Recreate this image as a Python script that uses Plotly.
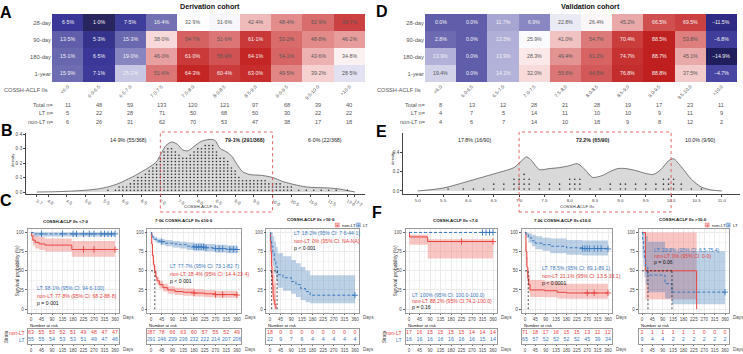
import plotly.graph_objects as go

# ======================= DATA =======================
rows = ["28-day", "90-day", "180-day", "1-year"]
cols_A = ["<6·0", "6·0-6·5", "6·5-7·0", "7·0-7·5", "7·5-8·0", "8·0-8·5",
          "8·5-9·0", "9·0-9·5", "9·5-10·0", ">10·0"]
cols_D = ["<6.0", "6.0-6.5", "6.5-7.0", "7.0-7.5", "7.5-8.0", "8.0-8.5",
          "8.5-9.0", "9.0-9.5", "9.5-10.0", ">10.0"]
A_vals = [
    [6.5, 1.0, 7.5, 16.4, 32.9, 31.6, 42.4, 48.4, 52.9, 59.7],
    [13.5, 5.3, 15.3, 38.0, 54.7, 51.6, 61.1, 53.2, 48.8, 46.2],
    [15.1, 6.5, 19.0, 46.0, 61.0, 56.9, 64.1, 54.1, 43.6, 34.8],
    [15.9, 7.1, 25.2, 51.6, 64.3, 60.4, 63.0, 49.5, 39.2, 28.5],
]
D_vals = [
    [0.0, 0.0, 11.7, 6.9, 22.8, 26.4, 45.2, 66.5, 69.5, -11.5],
    [2.8, 0.0, 13.5, 25.9, 41.0, 54.7, 70.4, 88.5, 53.8, -6.8],
    [13.9, 0.0, 13.9, 28.3, 49.4, 61.2, 74.7, 88.7, 45.1, -14.9],
    [19.4, 0.0, 14.1, 32.0, 55.6, 64.5, 76.8, 88.8, 37.5, -4.7],
]
A_total = [11, 48, 59, 133, 120, 121, 97, 68, 39, 40]
A_LT = [5, 22, 28, 71, 50, 68, 50, 30, 22, 22]
A_nonLT = [6, 26, 31, 62, 70, 53, 47, 38, 17, 18]
D_total = [8, 13, 12, 28, 21, 28, 19, 17, 23, 11]
D_LT = [4, 7, 5, 14, 11, 10, 10, 9, 11, 9]
D_nonLT = [4, 6, 7, 14, 10, 18, 9, 8, 12, 2]

# density curves
B_curve_x = [3.7, 4.2, 4.6, 5.0, 5.3, 5.6, 5.9, 6.1, 6.3, 6.5, 6.7, 6.9, 7.05, 7.15, 7.3,
             7.45, 7.6, 7.75, 7.9, 8.1, 8.3, 8.45, 8.6, 8.75, 8.9, 9.05, 9.2, 9.4, 9.7,
             10.0, 10.3, 10.6, 10.9, 11.2, 11.5, 11.8, 12.0, 12.2]
B_curve_y = [0.0, 0.002, 0.006, 0.012, 0.02, 0.035, 0.06, 0.085, 0.11, 0.14, 0.17, 0.21,
             0.28, 0.32, 0.345, 0.33, 0.29, 0.285, 0.315, 0.35, 0.362, 0.358, 0.30, 0.28,
             0.25, 0.19, 0.14, 0.12, 0.115, 0.10, 0.07, 0.05, 0.035, 0.03, 0.028, 0.02,
             0.01, 0.0]
B_dot_bins = [5.6, 5.8, 5.9, 6.0, 6.1, 6.2, 6.3, 6.4, 6.5, 6.6, 6.7, 6.8, 6.9, 7.0, 7.1,
              7.2, 7.3, 7.4, 7.5, 7.6, 7.7, 7.8, 7.9, 8.0, 8.1, 8.2, 8.3, 8.4, 8.5, 8.6,
              8.7, 8.8, 8.9, 9.0, 9.1, 9.2, 9.3, 9.4, 9.5, 9.6, 9.7, 9.8, 9.9, 10.0,
              10.1, 10.2, 10.3, 10.4, 10.5, 10.7, 10.9, 11.1, 11.3, 11.5, 11.7, 12.0]
B_dot_counts = [1, 1, 2, 2, 2, 3, 4, 5, 5, 6, 7, 8, 9, 11, 13, 14, 14, 13, 12, 11, 11, 12,
                13, 14, 14, 15, 15, 15, 13, 11, 11, 10, 8, 7, 5, 4, 4, 4, 4, 4, 4, 4, 3,
                3, 3, 3, 2, 2, 2, 1, 1, 1, 1, 1, 1, 1]
E_curve_x = [5.0, 5.2, 5.5, 5.8, 6.0, 6.2, 6.4, 6.6, 6.9, 7.05, 7.15, 7.25, 7.4, 7.6, 7.8,
             8.0, 8.15, 8.3, 8.45, 8.65, 8.8, 8.95, 9.1, 9.3, 9.5, 9.65, 9.8, 9.95, 10.05,
             10.2, 10.4, 10.6, 10.8, 11.0]
E_curve_y = [0.0, 0.01, 0.03, 0.07, 0.10, 0.13, 0.16, 0.19, 0.24, 0.31, 0.35, 0.31, 0.22,
             0.23, 0.24, 0.26, 0.28, 0.22, 0.14, 0.16, 0.20, 0.23, 0.23, 0.21, 0.18, 0.17,
             0.22, 0.31, 0.33, 0.25, 0.12, 0.04, 0.01, 0.0]
E_dot_bins = [5.6, 5.9, 6.1, 6.3, 6.5, 6.7, 6.9, 7.0, 7.1, 7.2, 7.4, 7.6, 7.8, 8.0, 8.1,
              8.2, 8.4, 8.6, 8.8, 9.0, 9.1, 9.3, 9.5, 9.7, 9.85, 9.95, 10.05, 10.2, 10.4,
              10.6]
E_dot_counts = [1, 1, 1, 1, 2, 2, 3, 3, 4, 3, 2, 2, 2, 3, 3, 3, 1, 1, 2, 2, 2, 2, 2, 2, 3,
                3, 3, 2, 1, 1]
B_ticks = [3.7, 4.0, 4.5, 5.0, 5.5, 6.0, 6.5, 7.0, 7.5, 8.0, 8.5, 9.0, 9.5, 10.0, 10.5,
           11.0, 11.5, 12.0, 12.2]
E_ticks = [5.0, 5.5, 6.0, 6.5, 7.0, 7.5, 8.0, 8.5, 9.0, 9.5, 10.0, 10.5, 11.0]
B_labels = ["14·9% (55/368)", "79·1% (291/368)", "6·0% (22/368)"]
E_labels = ["17.8% (16/90)", "72.2% (65/90)", "10.0% (9/90)"]

# Kaplan-Meier curves
KM_TIMES = [0, 45, 90, 135, 180, 225, 270, 315, 360]

C1_LT_t = [0, 10, 360]
C1_LT_s = [100, 98.1, 98.1]
C1_LT_lo = [100, 94.6, 94.6]
C1_LT_hi = [100, 100, 100]
C1_LT_cens = [45, 135, 180, 195, 225, 250, 270, 300, 315, 330, 345, 360]
C1_NL_t = [0, 3, 8, 18, 35, 60, 175, 360]
C1_NL_s = [100, 95, 90, 87, 85, 83.5, 77.8, 77.8]
C1_NL_lo = [100, 89, 83, 79, 77, 75, 68.2, 68.2]
C1_NL_hi = [100, 100, 97, 95, 94, 92, 88.8, 88.8]
C1_NL_cens = [225, 270, 360]
C1_med = []

C2_LT_t = [0, 3, 8, 15, 25, 40, 60, 90, 120, 150, 180, 225, 270, 315, 360]
C2_LT_s = [100, 96, 93, 91, 89, 88, 86, 85, 84, 82, 81, 80, 79, 78, 77.7]
C2_LT_lo = [100, 94, 90, 88, 86, 84, 82, 80.5, 79, 77, 76, 75, 74, 73, 73.1]
C2_LT_hi = [100, 98, 96, 94, 92, 91, 90, 89, 88, 87, 86, 85, 84, 83, 82.7]
C2_LT_cens = [45, 180, 190, 200, 210, 220, 230, 270, 285, 300, 330, 345, 360]
C2_NL_t = [0, 3, 6, 10, 15, 20, 25, 35, 50, 70, 100, 135, 180, 225, 270, 360]
C2_NL_s = [100, 85, 70, 58, 50, 42, 37, 32, 28, 25, 23, 22, 21, 20, 19, 18.4]
C2_NL_lo = [100, 81, 65, 53, 44, 37, 32, 27, 23, 20, 18.5, 17.5, 16.5, 15.5, 15, 14.4]
C2_NL_hi = [100, 89, 75, 64, 56, 48, 42, 37, 33, 30, 28, 27, 26, 25, 24, 23.4]
C2_NL_cens = [180, 270, 300, 360]
C2_med = [16]

C3_LT_t = [0, 3, 7, 12, 18, 25, 32, 55, 90, 110, 130, 150, 170, 360]
C3_LT_s = [100, 91, 82, 73, 64, 55, 45, 41, 36, 32, 27, 23, 18.2, 18.2]
C3_LT_lo = [100, 79, 67, 56, 46, 37, 28, 24, 20, 16, 12, 9, 7.6, 7.6]
C3_LT_hi = [100, 100, 100, 95, 88, 81, 73, 69, 64, 60, 55, 50, 44.1, 44.1]
C3_LT_cens = [360]
C3_NL_t = [0, 2, 4, 6, 8, 10, 13, 16, 20, 25]
C3_NL_s = [100, 88, 75, 56, 44, 31, 19, 12, 6, 0]
C3_NL_lo = [100, 72, 56, 36, 25, 14, 6, 2, 0.5, 0]
C3_NL_hi = [100, 100, 99, 86, 76, 66, 55, 45, 35, 0]
C3_NL_cens = []
C3_med = [7, 30]

F1_LT_t = [0, 360]
F1_LT_s = [100, 100]
F1_LT_lo = [100, 100]
F1_LT_hi = [100, 100]
F1_LT_cens = [315, 330, 345, 360]
F1_NL_t = [0, 2, 80, 360]
F1_NL_s = [100, 94.1, 88.2, 88.2]
F1_NL_lo = [100, 84, 66, 66]
F1_NL_hi = [100, 97, 91, 91]
F1_NL_cens = [225, 360]
F1_med = []

F2_LT_t = [0, 5, 15, 30, 45, 75, 110, 180, 250, 360]
F2_LT_s = [100, 97, 93, 89, 86, 84, 82, 80, 79, 78.5]
F2_LT_lo = [100, 93, 87, 82, 78, 76, 73, 71, 70, 69.1]
F2_LT_hi = [100, 100, 99, 97, 95, 93, 92, 90, 89.5, 89.1]
F2_LT_cens = [250, 260, 270, 280, 300, 315, 330, 360]
F2_NL_t = [0, 4, 8, 12, 16, 22, 85, 140, 180, 360]
F2_NL_s = [100, 75, 55, 40, 32, 25, 24, 22, 21.1, 21.1]
F2_NL_lo = [100, 65, 44, 30, 22, 16, 15.5, 14, 13.5, 13.5]
F2_NL_hi = [100, 86, 68, 53, 45, 38, 36.5, 34, 33.1, 33.1]
F2_NL_cens = [270, 300, 360]
F2_med = [14]

F3_LT_t = [0, 3, 6, 10, 16, 25, 100, 130, 360]
F3_LT_s = [100, 88.9, 77.8, 66.7, 55.6, 44.4, 33.3, 22.2, 22.2]
F3_LT_lo = [100, 70, 55, 42, 32, 22, 14, 6.5, 6.5]
F3_LT_hi = [100, 100, 100, 100, 95, 88, 79, 75.4, 75.4]
F3_LT_cens = [360]
F3_NL_t = [0, 15, 237, 237]
F3_NL_s = [100, 50, 50, 0]
F3_NL_lo = [100, 13, 13, 13]
F3_NL_hi = [100, 100, 100, 100]
F3_NL_cens = []
F3_med = [26, 130]

C1_risk_nl = [63, 55, 53, 52, 51, 49, 48, 47, 47]
C1_risk_lt = [55, 55, 54, 53, 53, 51, 49, 47, 46]
C2_risk_nl = [287, 78, 66, 63, 60, 57, 55, 52, 49]
C2_risk_lt = [291, 246, 239, 236, 232, 222, 214, 207, 206]
C3_risk_nl = [18, 0, 0, 0, 0, 0, 0, 0, 0]
C3_risk_lt = [22, 9, 7, 6, 4, 4, 4, 4, 4]
F1_risk_nl = [17, 16, 15, 15, 15, 15, 14, 14, 14]
F1_risk_lt = [16, 16, 16, 16, 16, 16, 16, 15, 14]
F2_risk_nl = [71, 18, 17, 16, 15, 15, 13, 12, 12]
F2_risk_lt = [65, 57, 52, 52, 52, 52, 45, 39, 34]
F3_risk_nl = [2, 1, 1, 1, 1, 1, 0, 0, 0]
F3_risk_lt = [9, 4, 4, 2, 2, 2, 2, 2, 2]

C_titles = ["COSSH-ACLF IIs <7·0", "7·0≤ COSSH-ACLF IIs ≤10·0", "COSSH-ACLF IIs >10·0"]
F_titles = ["COSSH-ACLF IIs <7.0", "7.0≤ COSSH-ACLF IIs ≤10.0", "COSSH-ACLF IIs >10.0"]
C_texts = [["LT: 98·1% (95% CI: 94·6-100)", "non-LT: 77·8% (95% CI: 68·2-88·8)", "p = 0·001"],
           ["LT: 77·7% (95% CI: 73·1-82·7)", "non-LT: 18·4% (95% CI: 14·4-23·4)", "p < 0·001"],
           ["LT: 18·2% (95% CI: 7·6-44·1)", "non-LT: 0% (95% CI: NA-NA)", "p < 0·001"]]
F_texts = [["LT: 100% (95% CI: 100.0-100.0)", "non-LT: 88.2% (95% CI:74.2-100.0)", "p = 0.16"],
           ["LT: 78.5% (95% CI: 69.1-89.1)", "non-LT: 21.1% (95% CI: 13.5-33.1)", "p < 0.0001"],
           ["LT: 22.2% (95% CI: 6.5-75.4)", "non-LT: 0% (95% CI: 0-0)", "p = 0.06"]]

# ======================= STYLE / LAYOUT HELPERS =======================
W, H = 743, 354
FONT = "Liberation Sans, Arial, sans-serif"
RED = "#E8433D"
BLUE = "#3A78BE"
RED_FILL = "rgba(238,105,100,0.38)"
BLUE_FILL = "rgba(70,125,185,0.36)"
GRID = "#ebebeb"


def PX(x):
    return x / W


def PY(y):
    return 1 - y / H


def esc(s):
    return s.replace("<", "&lt;").replace(">", "&gt;")


def fmt_dot(v):
    return f"{v:.1f}%".replace(".", "·")


def fmt_plain(v):
    s = f"{abs(v):.1f}%"
    return ("−" + s) if v < 0 else s


fig = go.Figure()
ann = []
shapes = []
L = {}


def T(text, x, y, size=5.2, color="#333333", xa="center", ya="middle", bold=False,
      angle=0, xref="paper", yref="paper"):
    if bold:
        text = "<b>" + text + "</b>"
    ann.append(dict(text=text, x=PX(x) if xref == "paper" else x,
                    y=PY(y) if yref == "paper" else y, xref=xref, yref=yref,
                    showarrow=False, font=dict(size=size, color=color, family=FONT),
                    xanchor=xa, yanchor=ya, textangle=angle))


def axname(i):
    return "" if i == 1 else str(i)


# ======================= HEATMAPS (A, D) =======================
A_anchors = [(0, "#1f1d55"), (1, "#29265f"), (6.5, "#3a3799"), (15, "#6866ae"),
             (20, "#8f8ec4"), (25, "#c5c4e2"), (30, "#eeeef7"), (33, "#ffffff"),
             (38, "#f7d9d9"), (43, "#eeb6b6"), (48, "#e48f8f"), (53, "#d96c6c"),
             (58, "#cf4b4b"), (62, "#c93434"), (65, "#c22020")]
D_anchors = [(-15, "#211e5c"), (-11.5, "#2f2b84"), (-5, "#4844a2"), (0, "#605dab"),
             (3, "#6e6bb2"), (7, "#8b89c3"), (12, "#a9a8d4"), (14, "#b2b1d9"),
             (20, "#d6d6eb"), (23, "#ebebf5"), (26, "#fbfbfd"), (28, "#fbe9e9"),
             (32, "#f8dada"), (41, "#f1c2c2"), (45, "#eaaaaa"), (50, "#e39090"),
             (55, "#dc7878"), (61, "#d76464"), (65, "#d25656"), (70, "#ca3e3e"),
             (77, "#c42c2c"), (89, "#bf1f1f")]


def scale(anchors):
    lo, hi = anchors[0][0], anchors[-1][0]
    return [[(v - lo) / (hi - lo), c] for v, c in anchors], lo, hi


heat_specs = [
    (1, cols_A, A_vals, A_anchors, fmt_dot, 26, 60, (52, 365), A_total, A_LT, A_nonLT, 55),
    (2, cols_D, D_vals, D_anchors, fmt_plain, 15, 66, (425, 737), D_total, D_LT, D_nonLT, 427),
]
for i, cols, vals, anchors, fmt, lowthr, hithr, (xa0, xa1), tot, lt, nl, labx in heat_specs:
    cs, zlo, zhi = scale(anchors)
    n = axname(i)
    fig.add_trace(go.Heatmap(z=vals, x=cols, y=rows, colorscale=cs, zmin=zlo, zmax=zhi,
                             showscale=False, hoverinfo="skip", xaxis="x" + n, yaxis="y" + n))
    L["xaxis" + n] = dict(domain=[PX(xa0), PX(xa1)], anchor="y" + n, type="category",
                          tickvals=cols, ticktext=[esc(c) for c in cols], tickangle=-45,
                          tickfont=dict(size=4.8, color="#555555", family=FONT),
                          showgrid=False, zeroline=False, showline=False, ticks="")
    L["yaxis" + n] = dict(domain=[PY(82), PY(14)], anchor="x" + n, type="category",
                          autorange="reversed", tickfont=dict(size=5.8, color="#555555", family=FONT),
                          showgrid=False, zeroline=False, showline=False, ticks="")
    for r, row in enumerate(rows):
        for c, col in enumerate(cols):
            v = vals[r][c]
            color = "#f2f2f2" if (v < lowthr or v >= hithr) else "#555555"
            T(fmt(v), col, row, size=5.2, color=color, xref="x" + n, yref="y" + n)
    # count table
    for label, arr, yy in (("Total n=", tot, 105), ("LT n=", lt, 113.5), ("non-LT n=", nl, 122)):
        T(label, labx, yy, size=5.6, color="#555555", xa="right")
        for col, val in zip(cols, arr):
            T(str(val), col, yy, size=5.6, color="#555555", xref="x" + n)
    T("COSSH-ACLF IIs", xa0 - 2, 90, size=5.6, color="#555555", xa="right")

T("Derivation cohort", 210, 6.5, size=7.2, color="#111111", bold=True)
T("Validation cohort", 590, 6.5, size=7.2, color="#111111", bold=True)

# ======================= DENSITY (B, E) =======================
dens_specs = [
    (3, B_curve_x, B_curve_y, B_dot_bins, B_dot_counts, 0.012, 0.022, (26, 365), [3.41, 12.47],
     [-0.0138, 0.407], B_ticks, lambda v: f"{v:.1f}".replace(".", "·"),
     [0.0, 0.1, 0.2, 0.3, 0.4], lambda v: f"{v:.1f}".replace(".", "·"), B_labels,
     [128, 245, 325], 12),
    (4, E_curve_x, E_curve_y, E_dot_bins, E_dot_counts, 0.02, 0.05, (403, 740), [4.71, 11.36],
     [-0.031, 0.595], E_ticks, lambda v: f"{v:.1f}", [0.0, 0.2, 0.4], lambda v: f"{v:.1f}",
     E_labels, [475, 593, 700], 392),
]
for (i, cx, cy, dbins, dcounts, base, step, (xa0, xa1), xr, yr, xt, xfmt, yt, yfmt,
     labels, labx, denx) in dens_specs:
    n = axname(i)
    fig.add_trace(go.Scatter(x=cx, y=cy, mode="lines", line=dict(color="#5a5a5a", width=0.8,
                             shape="spline", smoothing=0.8), fill="tozeroy", fillcolor="#d9d9d9",
                             hoverinfo="skip", xaxis="x" + n, yaxis="y" + n))
    dx, dy = [], []
    for xv, cnt in zip(dbins, dcounts):
        for k in range(cnt):
            dx.append(xv)
            dy.append(base + k * step)
    fig.add_trace(go.Scatter(x=dx, y=dy, mode="markers", marker=dict(size=1.6, color="#2a2a2a"),
                             hoverinfo="skip", xaxis="x" + n, yaxis="y" + n))
    L["xaxis" + n] = dict(domain=[PX(xa0), PX(xa1)], anchor="y" + n, range=xr,
                          tickvals=xt, ticktext=[xfmt(v) for v in xt],
                          tickfont=dict(size=4.4, color="#444444", family=FONT),
                          showgrid=False, zeroline=False, showline=True, linecolor="#444444",
                          linewidth=0.7, ticks="outside", ticklen=2, tickcolor="#444444",
                          tickwidth=0.6)
    L["yaxis" + n] = dict(domain=[PY(194), PY(133)], anchor="x" + n, range=yr,
                          tickvals=yt, ticktext=[yfmt(v) for v in yt],
                          tickfont=dict(size=4.6, color="#444444", family=FONT),
                          showgrid=False, zeroline=False, showline=True, linecolor="#444444",
                          linewidth=0.7, ticks="outside", ticklen=2, tickcolor="#444444",
                          tickwidth=0.6)
    shapes.append(dict(type="rect", xref="x" + n, yref="paper", x0=7.0, x1=10.0,
                       y0=PY(212), y1=PY(132), line=dict(color="#e05555", width=0.9, dash="dot")))
    for k, (txt, lx) in enumerate(zip(labels, labx)):
        T(txt, lx, 140, size=5.3, color="#222222", bold=(k == 1))
    T("density", denx, 160 if i == 3 else 158, size=4.2, color="#333333", angle=-90)
    T("COSSH-ACLF IIs", (xa0 + xa1) / 2 + 6, 206, size=4.4, color="#333333")

# ======================= KAPLAN-MEIER (C, F) =======================
def s_at(t_arr, s_arr, c):
    val = s_arr[0]
    for tt, ss in zip(t_arr, s_arr):
        if tt <= c:
            val = ss
    return val


km_panels = [
    (5, 11, 31, 84 / 360, C_titles[0], 66, 221.5, C_texts[0], 35, 288, 7.5, True,
     (C1_LT_t, C1_LT_s, C1_LT_lo, C1_LT_hi, C1_LT_cens),
     (C1_NL_t, C1_NL_s, C1_NL_lo, C1_NL_hi, C1_NL_cens), C1_med, C1_risk_nl, C1_risk_lt, False),
    (6, 12, 151, 86 / 360, C_titles[1], 184, 220, C_texts[1], 168, 266, 7.5, False,
     (C2_LT_t, C2_LT_s, C2_LT_lo, C2_LT_hi, C2_LT_cens),
     (C2_NL_t, C2_NL_s, C2_NL_lo, C2_NL_hi, C2_NL_cens), C2_med, C2_risk_nl, C2_risk_lt, False),
    (7, 13, 270, 85 / 360, C_titles[2], 311, 219, C_texts[2], 292, 233, 7.5, False,
     (C3_LT_t, C3_LT_s, C3_LT_lo, C3_LT_hi, C3_LT_cens),
     (C3_NL_t, C3_NL_s, C3_NL_lo, C3_NL_hi, C3_NL_cens), C3_med, C3_risk_nl, C3_risk_lt, True),
    (8, 14, 409, 84 / 360, F_titles[0], 455, 220, F_texts[0], 410, 295, 6, True,
     (F1_LT_t, F1_LT_s, F1_LT_lo, F1_LT_hi, F1_LT_cens),
     (F1_NL_t, F1_NL_s, F1_NL_lo, F1_NL_hi, F1_NL_cens), F1_med, F1_risk_nl, F1_risk_lt, False),
    (9, 15, 525, 83 / 360, F_titles[1], 562, 220, F_texts[1], 540, 268, 7.5, False,
     (F2_LT_t, F2_LT_s, F2_LT_lo, F2_LT_hi, F2_LT_cens),
     (F2_NL_t, F2_NL_s, F2_NL_lo, F2_NL_hi, F2_NL_cens), F2_med, F2_risk_nl, F2_risk_lt, False),
    (10, 16, 642, 83 / 360, F_titles[2], 683, 219, F_texts[2], 652, 250, 6, False,
     (F3_LT_t, F3_LT_s, F3_LT_lo, F3_LT_hi, F3_LT_cens),
     (F3_NL_t, F3_NL_s, F3_NL_lo, F3_NL_hi, F3_NL_cens), F3_med, F3_risk_nl, F3_risk_lt, True),
]
XR = [-15, 378]
for (ai, ri, p0, k, title, tx, ty, texts, txx, txy, tdy, first, LTd, NLd, med,
     rnl, rlt, legend) in km_panels:
    xa0 = p0 + XR[0] * k
    xa1 = p0 + XR[1] * k
    n = axname(ai)
    for (t, s, lo, hi, cens), col, fillc in ((NLd, RED, RED_FILL), (LTd, BLUE, BLUE_FILL)):
        fig.add_trace(go.Scatter(x=t, y=lo, mode="lines", line=dict(width=0, shape="hv"),
                                 hoverinfo="skip", xaxis="x" + n, yaxis="y" + n))
        fig.add_trace(go.Scatter(x=t, y=hi, mode="lines", line=dict(width=0, shape="hv"),
                                 fill="tonexty", fillcolor=fillc, hoverinfo="skip",
                                 xaxis="x" + n, yaxis="y" + n))
    for (t, s, lo, hi, cens), col, dash in ((NLd, RED, "solid"), (LTd, BLUE, "3px,2px")):
        fig.add_trace(go.Scatter(x=t, y=s, mode="lines", line=dict(color=col, width=1.0,
                                 shape="hv", dash=dash), hoverinfo="skip",
                                 xaxis="x" + n, yaxis="y" + n))
        if cens:
            fig.add_trace(go.Scatter(x=cens, y=[s_at(t, s, c) for c in cens], mode="markers",
                                     marker=dict(symbol="cross-thin", size=4.5,
                                                 line=dict(color=col, width=0.9)),
                                     hoverinfo="skip", xaxis="x" + n, yaxis="y" + n))
    if med:
        fig.add_trace(go.Scatter(x=[0, max(med)], y=[50, 50], mode="lines",
                                 line=dict(color="#222222", width=0.8, dash="2px,2px"),
                                 hoverinfo="skip", xaxis="x" + n, yaxis="y" + n))
        for m in med:
            fig.add_trace(go.Scatter(x=[m, m], y=[0, 50], mode="lines",
                                     line=dict(color="#222222", width=0.8, dash="2px,2px"),
                                     hoverinfo="skip", xaxis="x" + n, yaxis="y" + n))
    L["xaxis" + n] = dict(domain=[PX(xa0), PX(xa1)], anchor="y" + n, range=XR,
                          tickmode="linear", tick0=0, dtick=45,
                          tickfont=dict(size=4.6, color="#4d4d4d", family=FONT),
                          showgrid=True, gridcolor=GRID, gridwidth=0.6, zeroline=False,
                          showline=True, mirror=True, linecolor="#9a9a9a", linewidth=0.6,
                          ticks="outside", ticklen=1.5, tickcolor="#666666", tickwidth=0.5,
                          minor=dict(dtick=22.5, tick0=0, showgrid=True, gridcolor="#f5f5f5",
                                     gridwidth=0.4))
    L["yaxis" + n] = dict(domain=[PY(313), PY(228.6)], anchor="x" + n, range=[-5, 105],
                          tickmode="linear", tick0=0, dtick=25,
                          tickfont=dict(size=4.6, color="#4d4d4d", family=FONT),
                          showgrid=True, gridcolor=GRID, gridwidth=0.6, zeroline=False,
                          showline=True, mirror=True, linecolor="#9a9a9a", linewidth=0.6,
                          ticks="outside", ticklen=2, tickcolor="#666666", tickwidth=0.5,
                          minor=dict(dtick=12.5, tick0=0, showgrid=True, gridcolor="#f5f5f5",
                                     gridwidth=0.4))
    T(esc(title), tx, ty, size=4.4, color="#111111", bold=True)
    T("Days", xa1 + 2, 317.5, size=4.6, color="#4d4d4d", xa="left")
    for j, (txt, col) in enumerate(zip(texts, (BLUE, RED, "#111111"))):
        T(esc(txt), txx, txy + j * tdy, size=5.1, color=col, xa="left")
    if first:
        T("Survival probability (%)", xa0 - 11, 271, size=5.0, color="#333333", angle=-90)
    if legend:
        lx = xa1 - 24
        for (lab, col, fc, dx) in (("non-LT", RED, RED_FILL, 0), ("LT", BLUE, BLUE_FILL, 21)):
            shapes.append(dict(type="rect", xref="paper", yref="paper",
                               x0=PX(lx + dx), x1=PX(lx + dx + 4), y0=PY(227), y1=PY(223),
                               fillcolor=fc, line=dict(color=col, width=0.4)))
            T("+", lx + dx + 2, 225, size=5, color=col)
            T(lab, lx + dx + 4.5, 225, size=4.4, color="#222222", xa="left")
    # risk table
    rn = axname(ri)
    fig.add_trace(go.Scatter(x=KM_TIMES, y=[2] * len(KM_TIMES), mode="text",
                             text=[str(v) for v in rnl],
                             textfont=dict(size=5.2, color=RED, family=FONT),
                             hoverinfo="skip", xaxis="x" + rn, yaxis="y" + rn))
    fig.add_trace(go.Scatter(x=KM_TIMES, y=[1] * len(KM_TIMES), mode="text",
                             text=[str(v) for v in rlt],
                             textfont=dict(size=5.2, color=BLUE, family=FONT),
                             hoverinfo="skip", xaxis="x" + rn, yaxis="y" + rn))
    L["xaxis" + rn] = dict(domain=[PX(xa0), PX(xa1)], anchor="y" + rn, range=XR,
                           tickmode="linear", tick0=0, dtick=45,
                           tickfont=dict(size=4.5, color="#4d4d4d", family=FONT),
                           showgrid=False, zeroline=False, showline=True, mirror=True,
                           linecolor="#9a9a9a", linewidth=0.6, ticks="outside", ticklen=1.5,
                           tickcolor="#666666", tickwidth=0.5)
    L["yaxis" + rn] = dict(domain=[PY(344), PY(329)], anchor="x" + rn, range=[0.4, 2.6],
                           showticklabels=False, showgrid=False, zeroline=False,
                           showline=True, mirror=True, linecolor="#9a9a9a", linewidth=0.6,
                           ticks="")
    T("Number at risk", xa0, 325.5, size=4.3, color="#111111", xa="left")
    T("Days", xa1 + 2, 349.5, size=4.5, color="#4d4d4d", xa="left")
    if first:
        T("non-LT", xa0 - 2, 333, size=5.0, color=RED, xa="right")
        T("LT", xa0 - 2, 340.3, size=5.0, color=BLUE, xa="right")
        T("Strata", xa0 - 21, 336.5, size=4.6, color="#333333", angle=-90)

# ======================= PANEL LETTERS =======================
for letter, x, y in (("A", 6, 12), ("D", 382, 11.5), ("B", 7, 130), ("E", 382, 131),
                     ("C", 6, 200), ("F", 377, 212)):
    T(letter, x, y, size=16, color="#000000", bold=True)

fig.update_layout(width=W, height=H, margin=dict(l=0, r=0, t=0, b=0),
                  paper_bgcolor="white", plot_bgcolor="white", showlegend=False,
                  template="none", annotations=ann, shapes=shapes,
                  font=dict(family=FONT, size=6), **L)
fig.write_html("out.html", config={"displayModeBar": False},
               post_script="document.body.style.margin='0';document.body.style.padding='0';")
